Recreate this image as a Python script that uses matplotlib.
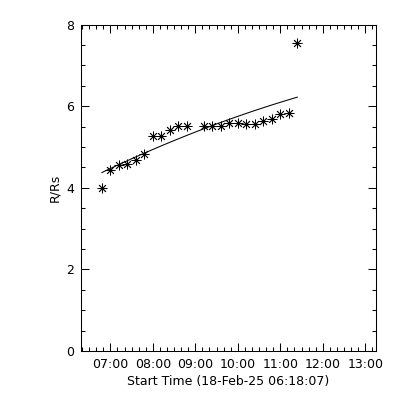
import numpy as np
import matplotlib
matplotlib.use("Agg")
import matplotlib.pyplot as plt
import matplotlib.dates as mdates
from datetime import datetime, timedelta

# Data
start_time = datetime(2025, 2, 18, 6, 18, 7)
obs_times = ["06:48", "07:00", "07:12", "07:24", "07:36", "07:48", "08:00", "08:12",
             "08:24", "08:36", "08:48", "09:12", "09:24", "09:36", "09:48", "10:00",
             "10:12", "10:24", "10:36", "10:48", "11:00", "11:12", "11:24"]
heights = [4.00, 4.44, 4.57, 4.59, 4.67, 4.82, 5.26, 5.26, 5.42, 5.52, 5.52,
           5.52, 5.52, 5.52, 5.58, 5.58, 5.57, 5.57, 5.64, 5.69, 5.80, 5.83, 7.55]
x_tick_labels = ["07:00", "08:00", "09:00", "10:00", "11:00", "12:00", "13:00"]
y_ticks = [0, 2, 4, 6, 8]

def to_dt(s):
    h, m = map(int, s.split(":"))
    return datetime(2025, 2, 18, h, m, 0)

times = [to_dt(s) for s in obs_times]
tsec = np.array([(t - start_time).total_seconds() for t in times])
hvals = np.array(heights)

# quadratic fit of height vs time
coef = np.polyfit(tsec, hvals, 2)
fit_sec = np.linspace(tsec[0], tsec[-1], 100)
fit_h = np.polyval(coef, fit_sec)
fit_dt = [start_time + timedelta(seconds=float(s)) for s in fit_sec]

plt.rcParams['font.family'] = ['DejaVu Sans']
fig = plt.figure(figsize=(4, 4), dpi=100)
ax = fig.add_axes([0.2018, 0.1225, 0.7375, 0.816])

ax.plot(times, heights, linestyle='none', marker=(8, 2, 0), markersize=7,
        markeredgewidth=0.6, color='black')
ax.plot(fit_dt, fit_h, color='black', linewidth=0.75)

ax.set_xlim(start_time, start_time + timedelta(seconds=25000))
ax.set_ylim(0, 8)
ax.set_yticks(y_ticks)
ax.set_yticklabels([str(v) for v in y_ticks])
ax.yaxis.set_minor_locator(matplotlib.ticker.MultipleLocator(0.5))

xt = [to_dt(s) for s in x_tick_labels]
ax.set_xticks(xt)
ax.set_xticklabels(x_tick_labels)
ax.xaxis.set_minor_locator(mdates.MinuteLocator(byminute=[0, 10, 20, 30, 40, 50]))

ax.tick_params(which='both', direction='in', top=True, right=True,
               labelsize=9, width=0.75, pad=5)
ax.tick_params(which='major', length=6)
ax.tick_params(which='minor', length=3)
for sp in ax.spines.values():
    sp.set_linewidth(0.75)

ax.set_xlabel("Start Time (18-Feb-25 06:18:07)", fontsize=9, labelpad=3)
ax.set_ylabel("R/Rs", fontsize=9)
ax.yaxis.set_label_coords(-0.067, 0.5)

fig.savefig("out.png", dpi=100)
